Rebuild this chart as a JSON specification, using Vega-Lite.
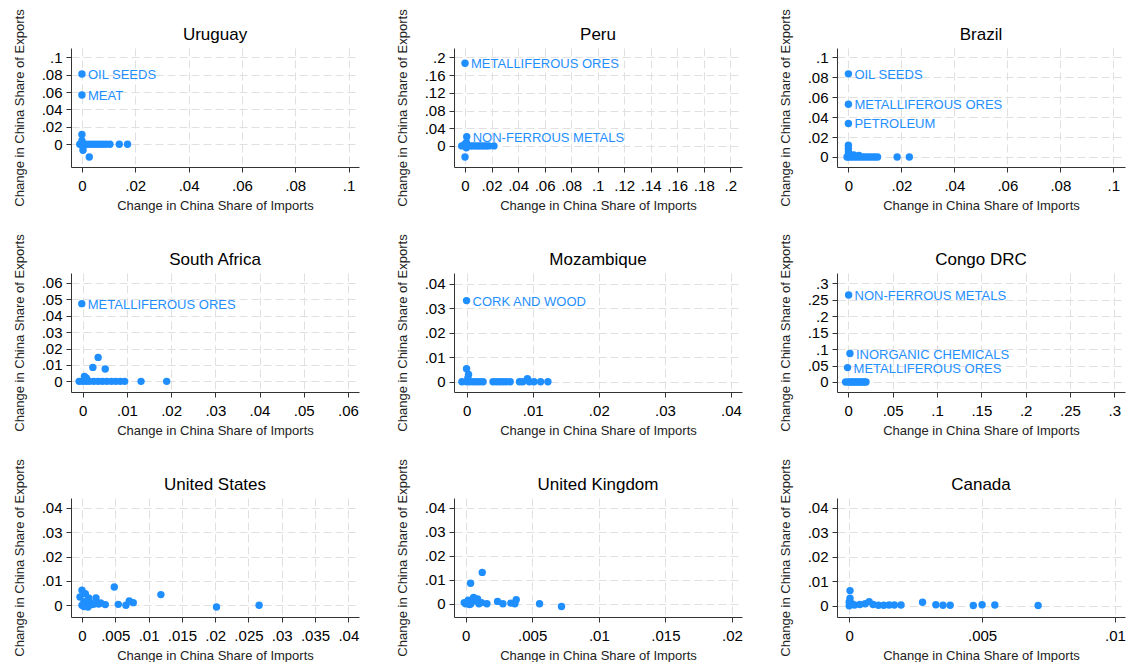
{
  "$schema": "https://vega.github.io/schema/vega-lite/v6.json",
  "padding": {"left": 12, "top": 8, "right": 0, "bottom": 0},
  "background": "white",
  "datasets": {
    "trade": [
      {"country": "Uruguay", "imp": 0, "exp": 0.081, "label": "OIL SEEDS"},
      {"country": "Uruguay", "imp": 0, "exp": 0.0568, "label": "MEAT"},
      {"country": "Uruguay", "imp": 0, "exp": 0.0112, "label": null},
      {"country": "Uruguay", "imp": 0, "exp": 0.004, "label": null},
      {"country": "Uruguay", "imp": -0.0008, "exp": 0, "label": null},
      {"country": "Uruguay", "imp": 0, "exp": 0, "label": null},
      {"country": "Uruguay", "imp": 0.0004, "exp": -0.003, "label": null},
      {"country": "Uruguay", "imp": 0.0004, "exp": -0.007, "label": null},
      {"country": "Uruguay", "imp": 0.0015, "exp": 0, "label": null},
      {"country": "Uruguay", "imp": 0.00275, "exp": 0, "label": null},
      {"country": "Uruguay", "imp": 0.004, "exp": 0, "label": null},
      {"country": "Uruguay", "imp": 0.00525, "exp": 0, "label": null},
      {"country": "Uruguay", "imp": 0.0065, "exp": 0, "label": null},
      {"country": "Uruguay", "imp": 0.00775, "exp": 0, "label": null},
      {"country": "Uruguay", "imp": 0.009, "exp": 0, "label": null},
      {"country": "Uruguay", "imp": 0.0105, "exp": 0, "label": null},
      {"country": "Uruguay", "imp": 0.014, "exp": 0, "label": null},
      {"country": "Uruguay", "imp": 0.0171, "exp": 0, "label": null},
      {"country": "Uruguay", "imp": 0.00275, "exp": -0.0147, "label": null},

      {"country": "Peru", "imp": 0, "exp": 0.187, "label": "METALLIFEROUS ORES"},
      {"country": "Peru", "imp": 0.0013, "exp": 0.0205, "label": "NON-FERROUS METALS"},
      {"country": "Peru", "imp": 0, "exp": -0.025, "label": null},
      {"country": "Peru", "imp": 0.001, "exp": 0.008, "label": null},
      {"country": "Peru", "imp": 0, "exp": 0.004, "label": null},
      {"country": "Peru", "imp": 0.001, "exp": -0.004, "label": null},
      {"country": "Peru", "imp": -0.0025, "exp": 0, "label": null},
      {"country": "Peru", "imp": 0, "exp": 0, "label": null},
      {"country": "Peru", "imp": 0.002, "exp": 0, "label": null},
      {"country": "Peru", "imp": 0.004, "exp": 0, "label": null},
      {"country": "Peru", "imp": 0.006, "exp": 0, "label": null},
      {"country": "Peru", "imp": 0.008, "exp": 0, "label": null},
      {"country": "Peru", "imp": 0.01, "exp": 0, "label": null},
      {"country": "Peru", "imp": 0.012, "exp": 0, "label": null},
      {"country": "Peru", "imp": 0.014, "exp": 0, "label": null},
      {"country": "Peru", "imp": 0.016, "exp": 0, "label": null},
      {"country": "Peru", "imp": 0.018, "exp": 0, "label": null},
      {"country": "Peru", "imp": 0.0218, "exp": 0, "label": null},

      {"country": "Brazil", "imp": 0, "exp": 0.0835, "label": "OIL SEEDS"},
      {"country": "Brazil", "imp": 0, "exp": 0.0529, "label": "METALLIFEROUS ORES"},
      {"country": "Brazil", "imp": 0, "exp": 0.0337, "label": "PETROLEUM"},
      {"country": "Brazil", "imp": 0, "exp": 0.0118, "label": null},
      {"country": "Brazil", "imp": 0, "exp": 0.0084, "label": null},
      {"country": "Brazil", "imp": 0, "exp": 0.005, "label": null},
      {"country": "Brazil", "imp": 0.0003, "exp": 0.003, "label": null},
      {"country": "Brazil", "imp": 0.002, "exp": 0.002, "label": null},
      {"country": "Brazil", "imp": 0.004, "exp": 0.0015, "label": null},
      {"country": "Brazil", "imp": -0.0005, "exp": 0, "label": null},
      {"country": "Brazil", "imp": 0, "exp": 0, "label": null},
      {"country": "Brazil", "imp": 0.001, "exp": 0, "label": null},
      {"country": "Brazil", "imp": 0.002, "exp": 0, "label": null},
      {"country": "Brazil", "imp": 0.003, "exp": 0, "label": null},
      {"country": "Brazil", "imp": 0.004, "exp": 0, "label": null},
      {"country": "Brazil", "imp": 0.005, "exp": 0, "label": null},
      {"country": "Brazil", "imp": 0.006, "exp": 0, "label": null},
      {"country": "Brazil", "imp": 0.007, "exp": 0, "label": null},
      {"country": "Brazil", "imp": 0.008, "exp": 0, "label": null},
      {"country": "Brazil", "imp": 0.009, "exp": 0, "label": null},
      {"country": "Brazil", "imp": 0.01, "exp": 0, "label": null},
      {"country": "Brazil", "imp": 0.011, "exp": 0, "label": null},
      {"country": "Brazil", "imp": 0.0184, "exp": 0, "label": null},
      {"country": "Brazil", "imp": 0.023, "exp": 0, "label": null},

      {"country": "South Africa", "imp": -0.0002, "exp": 0.0474, "label": "METALLIFEROUS ORES"},
      {"country": "South Africa", "imp": 0.0035, "exp": 0.0146, "label": null},
      {"country": "South Africa", "imp": 0.0023, "exp": 0.0085, "label": null},
      {"country": "South Africa", "imp": 0.0051, "exp": 0.0075, "label": null},
      {"country": "South Africa", "imp": 0.0004, "exp": 0.003, "label": null},
      {"country": "South Africa", "imp": 0.0008, "exp": 0.002, "label": null},
      {"country": "South Africa", "imp": 0.001, "exp": 0.001, "label": null},
      {"country": "South Africa", "imp": -0.0008, "exp": 0, "label": null},
      {"country": "South Africa", "imp": 0, "exp": 0, "label": null},
      {"country": "South Africa", "imp": 0.0008, "exp": 0, "label": null},
      {"country": "South Africa", "imp": 0.0015, "exp": 0, "label": null},
      {"country": "South Africa", "imp": 0.0025, "exp": 0, "label": null},
      {"country": "South Africa", "imp": 0.0035, "exp": 0, "label": null},
      {"country": "South Africa", "imp": 0.0045, "exp": 0, "label": null},
      {"country": "South Africa", "imp": 0.0055, "exp": 0, "label": null},
      {"country": "South Africa", "imp": 0.0065, "exp": 0, "label": null},
      {"country": "South Africa", "imp": 0.0075, "exp": 0, "label": null},
      {"country": "South Africa", "imp": 0.0085, "exp": 0, "label": null},
      {"country": "South Africa", "imp": 0.0095, "exp": 0, "label": null},
      {"country": "South Africa", "imp": 0.0132, "exp": 0, "label": null},
      {"country": "South Africa", "imp": 0.019, "exp": 0, "label": null},

      {"country": "Mozambique", "imp": 0, "exp": 0.0332, "label": "CORK AND WOOD"},
      {"country": "Mozambique", "imp": 0, "exp": 0.0053, "label": null},
      {"country": "Mozambique", "imp": 0.0003, "exp": 0.003, "label": null},
      {"country": "Mozambique", "imp": 0.0002, "exp": 0.0015, "label": null},
      {"country": "Mozambique", "imp": 0.0092, "exp": 0.0012, "label": null},
      {"country": "Mozambique", "imp": -0.0007, "exp": 0, "label": null},
      {"country": "Mozambique", "imp": 0, "exp": 0, "label": null},
      {"country": "Mozambique", "imp": 0.0005, "exp": 0, "label": null},
      {"country": "Mozambique", "imp": 0.001, "exp": 0, "label": null},
      {"country": "Mozambique", "imp": 0.0015, "exp": 0, "label": null},
      {"country": "Mozambique", "imp": 0.002, "exp": 0, "label": null},
      {"country": "Mozambique", "imp": 0.0025, "exp": 0, "label": null},
      {"country": "Mozambique", "imp": 0.004, "exp": 0, "label": null},
      {"country": "Mozambique", "imp": 0.0045, "exp": 0, "label": null},
      {"country": "Mozambique", "imp": 0.005, "exp": 0, "label": null},
      {"country": "Mozambique", "imp": 0.0055, "exp": 0, "label": null},
      {"country": "Mozambique", "imp": 0.006, "exp": 0, "label": null},
      {"country": "Mozambique", "imp": 0.0066, "exp": 0, "label": null},
      {"country": "Mozambique", "imp": 0.008, "exp": 0, "label": null},
      {"country": "Mozambique", "imp": 0.0085, "exp": 0, "label": null},
      {"country": "Mozambique", "imp": 0.0095, "exp": 0, "label": null},
      {"country": "Mozambique", "imp": 0.0102, "exp": 0, "label": null},
      {"country": "Mozambique", "imp": 0.0112, "exp": 0, "label": null},
      {"country": "Mozambique", "imp": 0.0123, "exp": 0, "label": null},

      {"country": "Congo DRC", "imp": 0.0004, "exp": 0.2645, "label": "NON-FERROUS METALS"},
      {"country": "Congo DRC", "imp": 0.0019, "exp": 0.0865, "label": "INORGANIC CHEMICALS"},
      {"country": "Congo DRC", "imp": -0.0008, "exp": 0.0437, "label": "METALLIFEROUS ORES"},
      {"country": "Congo DRC", "imp": -0.003, "exp": 0, "label": null},
      {"country": "Congo DRC", "imp": 0, "exp": 0, "label": null},
      {"country": "Congo DRC", "imp": 0.002, "exp": 0, "label": null},
      {"country": "Congo DRC", "imp": 0.004, "exp": 0, "label": null},
      {"country": "Congo DRC", "imp": 0.006, "exp": 0, "label": null},
      {"country": "Congo DRC", "imp": 0.008, "exp": 0, "label": null},
      {"country": "Congo DRC", "imp": 0.01, "exp": 0, "label": null},
      {"country": "Congo DRC", "imp": 0.012, "exp": 0, "label": null},
      {"country": "Congo DRC", "imp": 0.014, "exp": 0, "label": null},
      {"country": "Congo DRC", "imp": 0.016, "exp": 0, "label": null},
      {"country": "Congo DRC", "imp": 0.018, "exp": 0, "label": null},
      {"country": "Congo DRC", "imp": 0.02, "exp": 0, "label": null},

      {"country": "United States", "imp": 0, "exp": 0.0062, "label": null},
      {"country": "United States", "imp": 0.0005, "exp": 0.0048, "label": null},
      {"country": "United States", "imp": 0.0021, "exp": 0.003, "label": null},
      {"country": "United States", "imp": 0.00485, "exp": 0.0075, "label": null},
      {"country": "United States", "imp": 0.01185, "exp": 0.0044, "label": null},
      {"country": "United States", "imp": 0.0202, "exp": -0.0007, "label": null},
      {"country": "United States", "imp": 0.0266, "exp": 0, "label": null},
      {"country": "United States", "imp": 0.00545, "exp": 0.0004, "label": null},
      {"country": "United States", "imp": 0.0066, "exp": 0, "label": null},
      {"country": "United States", "imp": 0.0071, "exp": 0.0018, "label": null},
      {"country": "United States", "imp": 0.0077, "exp": 0.0011, "label": null},
      {"country": "United States", "imp": 0.0035, "exp": 0.0003, "label": null},
      {"country": "United States", "imp": 0.0028, "exp": 0.001, "label": null},
      {"country": "United States", "imp": -0.0003, "exp": 0.0034, "label": null},
      {"country": "United States", "imp": 0, "exp": 0, "label": null},
      {"country": "United States", "imp": 0.0003, "exp": 0.0015, "label": null},
      {"country": "United States", "imp": 0.0006, "exp": 0.0007, "label": null},
      {"country": "United States", "imp": 0.0009, "exp": -0.0007, "label": null},
      {"country": "United States", "imp": 0.0012, "exp": 0.0012, "label": null},
      {"country": "United States", "imp": 0.0015, "exp": 0.0003, "label": null},
      {"country": "United States", "imp": 0.0018, "exp": 0.0005, "label": null},
      {"country": "United States", "imp": 0.0003, "exp": -0.0005, "label": null},
      {"country": "United States", "imp": 0.001, "exp": 0.003, "label": null},
      {"country": "United States", "imp": 0.0025, "exp": 0.0005, "label": null},

      {"country": "United Kingdom", "imp": 0.00125, "exp": 0.0131, "label": null},
      {"country": "United Kingdom", "imp": 0.000375, "exp": 0.0086, "label": null},
      {"country": "United Kingdom", "imp": 0.00555, "exp": 0, "label": null},
      {"country": "United Kingdom", "imp": 0.0072, "exp": -0.0011, "label": null},
      {"country": "United Kingdom", "imp": 0.0024, "exp": 0.001, "label": null},
      {"country": "United Kingdom", "imp": 0.0028, "exp": 0, "label": null},
      {"country": "United Kingdom", "imp": 0.0034, "exp": 0.0003, "label": null},
      {"country": "United Kingdom", "imp": 0.0038, "exp": 0.0017, "label": null},
      {"country": "United Kingdom", "imp": 0.0037, "exp": 0, "label": null},
      {"country": "United Kingdom", "imp": 0.0016, "exp": 0, "label": null},
      {"country": "United Kingdom", "imp": 0.0006, "exp": 0.0026, "label": null},
      {"country": "United Kingdom", "imp": 0, "exp": 0, "label": null},
      {"country": "United Kingdom", "imp": -0.0001, "exp": 0.0005, "label": null},
      {"country": "United Kingdom", "imp": 0.0002, "exp": 0.0015, "label": null},
      {"country": "United Kingdom", "imp": 0.0004, "exp": 0, "label": null},
      {"country": "United Kingdom", "imp": 0.0008, "exp": 0.0012, "label": null},
      {"country": "United Kingdom", "imp": 0.001, "exp": 0, "label": null},
      {"country": "United Kingdom", "imp": 0.0012, "exp": 0.0005, "label": null},
      {"country": "United Kingdom", "imp": 0.0009, "exp": 0.002, "label": null},
      {"country": "United Kingdom", "imp": 0.0003, "exp": -0.0003, "label": null},

      {"country": "Canada", "imp": 0.00003, "exp": 0.0062, "label": null},
      {"country": "Canada", "imp": 0.00003, "exp": 0.0031, "label": null},
      {"country": "Canada", "imp": 0, "exp": 0.0015, "label": null},
      {"country": "Canada", "imp": 0, "exp": 0, "label": null},
      {"country": "Canada", "imp": 0.0001, "exp": 0.0008, "label": null},
      {"country": "Canada", "imp": 0.0002, "exp": 0.0003, "label": null},
      {"country": "Canada", "imp": 0.0004, "exp": 0.0005, "label": null},
      {"country": "Canada", "imp": 0.0006, "exp": 0.0008, "label": null},
      {"country": "Canada", "imp": 0.00075, "exp": 0.0017, "label": null},
      {"country": "Canada", "imp": 0.0009, "exp": 0.0005, "label": null},
      {"country": "Canada", "imp": 0.0011, "exp": 0.0002, "label": null},
      {"country": "Canada", "imp": 0.0013, "exp": 0.0002, "label": null},
      {"country": "Canada", "imp": 0.0015, "exp": 0.0003, "label": null},
      {"country": "Canada", "imp": 0.0017, "exp": 0.0003, "label": null},
      {"country": "Canada", "imp": 0.00195, "exp": 0.0003, "label": null},
      {"country": "Canada", "imp": 0.00276, "exp": 0.0014, "label": null},
      {"country": "Canada", "imp": 0.00326, "exp": 0.0004, "label": null},
      {"country": "Canada", "imp": 0.00353, "exp": 0.0002, "label": null},
      {"country": "Canada", "imp": 0.0038, "exp": 0.0002, "label": null},
      {"country": "Canada", "imp": 0.00467, "exp": 0.0001, "label": null},
      {"country": "Canada", "imp": 0.005, "exp": 0.0004, "label": null},
      {"country": "Canada", "imp": 0.00548, "exp": 0.0003, "label": null},
      {"country": "Canada", "imp": 0.00711, "exp": 0.0001, "label": null}
    ]
  },
  "columns": 3,
  "bounds": "flush",
  "spacing": {"row": 106, "column": 95},
  "concat": [
    {
      "title": "Uruguay", "width": 288, "height": 119,
      "data": {"name": "trade"},
      "transform": [{"filter": "datum.country === 'Uruguay'"}],
      "encoding": {
        "x": {"field": "imp", "type": "quantitative", "title": "Change in China Share of Imports", "scale": {"domain": [-0.0041, 0.1039], "nice": false, "zero": false}, "axis": {"values": [0, 0.02, 0.04, 0.06, 0.08, 0.1]}},
        "y": {"field": "exp", "type": "quantitative", "title": "Change in China Share of Exports", "scale": {"domain": [-0.0263, 0.1109], "nice": false, "zero": false}, "axis": {"values": [0, 0.02, 0.04, 0.06, 0.08, 0.1]}}
      },
      "layer": [
        {"mark": {"type": "point"}},
        {"mark": {"type": "text"}, "transform": [{"filter": "datum.label != null"}], "encoding": {"text": {"field": "label"}}}
      ]
    },
    {
      "title": "Peru", "width": 288, "height": 119,
      "data": {"name": "trade"},
      "transform": [{"filter": "datum.country === 'Peru'"}],
      "encoding": {
        "x": {"field": "imp", "type": "quantitative", "title": "Change in China Share of Imports", "scale": {"domain": [-0.0083, 0.2088], "nice": false, "zero": false}, "axis": {"values": [0, 0.02, 0.04, 0.06, 0.08, 0.1, 0.12, 0.14, 0.16, 0.18, 0.2]}},
        "y": {"field": "exp", "type": "quantitative", "title": "Change in China Share of Exports", "scale": {"domain": [-0.0477, 0.2213], "nice": false, "zero": false}, "axis": {"values": [0, 0.04, 0.08, 0.12, 0.16, 0.2]}}
      },
      "layer": [
        {"mark": {"type": "point"}},
        {"mark": {"type": "text"}, "transform": [{"filter": "datum.label != null"}], "encoding": {"text": {"field": "label"}}}
      ]
    },
    {
      "title": "Brazil", "width": 288, "height": 119,
      "data": {"name": "trade"},
      "transform": [{"filter": "datum.country === 'Brazil'"}],
      "encoding": {
        "x": {"field": "imp", "type": "quantitative", "title": "Change in China Share of Imports", "scale": {"domain": [-0.0043, 0.1044], "nice": false, "zero": false}, "axis": {"values": [0, 0.02, 0.04, 0.06, 0.08, 0.1]}},
        "y": {"field": "exp", "type": "quantitative", "title": "Change in China Share of Exports", "scale": {"domain": [-0.0101, 0.1095], "nice": false, "zero": false}, "axis": {"values": [0, 0.02, 0.04, 0.06, 0.08, 0.1]}}
      },
      "layer": [
        {"mark": {"type": "point"}},
        {"mark": {"type": "text"}, "transform": [{"filter": "datum.label != null"}], "encoding": {"text": {"field": "label"}}}
      ]
    },
    {
      "title": "South Africa", "width": 288, "height": 119,
      "data": {"name": "trade"},
      "transform": [{"filter": "datum.country === 'South Africa'"}],
      "encoding": {
        "x": {"field": "imp", "type": "quantitative", "title": "Change in China Share of Imports", "scale": {"domain": [-0.00264, 0.0625], "nice": false, "zero": false}, "axis": {"values": [0, 0.01, 0.02, 0.03, 0.04, 0.05, 0.06]}},
        "y": {"field": "exp", "type": "quantitative", "title": "Change in China Share of Exports", "scale": {"domain": [-0.0065, 0.0661], "nice": false, "zero": false}, "axis": {"values": [0, 0.01, 0.02, 0.03, 0.04, 0.05, 0.06]}}
      },
      "layer": [
        {"mark": {"type": "point"}},
        {"mark": {"type": "text"}, "transform": [{"filter": "datum.label != null"}], "encoding": {"text": {"field": "label"}}}
      ]
    },
    {
      "title": "Mozambique", "width": 288, "height": 119,
      "data": {"name": "trade"},
      "transform": [{"filter": "datum.country === 'Mozambique'"}],
      "encoding": {
        "x": {"field": "imp", "type": "quantitative", "title": "Change in China Share of Imports", "scale": {"domain": [-0.0019, 0.04166], "nice": false, "zero": false}, "axis": {"values": [0, 0.01, 0.02, 0.03, 0.04]}},
        "y": {"field": "exp", "type": "quantitative", "title": "Change in China Share of Exports", "scale": {"domain": [-0.0042, 0.0445], "nice": false, "zero": false}, "axis": {"values": [0, 0.01, 0.02, 0.03, 0.04]}}
      },
      "layer": [
        {"mark": {"type": "point"}},
        {"mark": {"type": "text"}, "transform": [{"filter": "datum.label != null"}], "encoding": {"text": {"field": "label"}}}
      ]
    },
    {
      "title": "Congo DRC", "width": 288, "height": 119,
      "data": {"name": "trade"},
      "transform": [{"filter": "datum.country === 'Congo DRC'"}],
      "encoding": {
        "x": {"field": "imp", "type": "quantitative", "title": "Change in China Share of Imports", "scale": {"domain": [-0.0127, 0.312], "nice": false, "zero": false}, "axis": {"values": [0, 0.05, 0.1, 0.15, 0.2, 0.25, 0.3]}},
        "y": {"field": "exp", "type": "quantitative", "title": "Change in China Share of Exports", "scale": {"domain": [-0.0305, 0.3314], "nice": false, "zero": false}, "axis": {"values": [0, 0.05, 0.1, 0.15, 0.2, 0.25, 0.3]}}
      },
      "layer": [
        {"mark": {"type": "point"}},
        {"mark": {"type": "text"}, "transform": [{"filter": "datum.label != null"}], "encoding": {"text": {"field": "label"}}}
      ]
    },
    {
      "title": "United States", "width": 288, "height": 119,
      "data": {"name": "trade"},
      "transform": [{"filter": "datum.country === 'United States'"}],
      "encoding": {
        "x": {"field": "imp", "type": "quantitative", "title": "Change in China Share of Imports", "scale": {"domain": [-0.00165, 0.0416], "nice": false, "zero": false}, "axis": {"values": [0, 0.005, 0.01, 0.015, 0.02, 0.025, 0.03, 0.035, 0.04]}},
        "y": {"field": "exp", "type": "quantitative", "title": "Change in China Share of Exports", "scale": {"domain": [-0.0048, 0.0441], "nice": false, "zero": false}, "axis": {"values": [0, 0.01, 0.02, 0.03, 0.04]}}
      },
      "layer": [
        {"mark": {"type": "point"}}
      ]
    },
    {
      "title": "United Kingdom", "width": 288, "height": 119,
      "data": {"name": "trade"},
      "transform": [{"filter": "datum.country === 'United Kingdom'"}],
      "encoding": {
        "x": {"field": "imp", "type": "quantitative", "title": "Change in China Share of Imports", "scale": {"domain": [-0.00087, 0.02075], "nice": false, "zero": false}, "axis": {"values": [0, 0.005, 0.01, 0.015, 0.02]}},
        "y": {"field": "exp", "type": "quantitative", "title": "Change in China Share of Exports", "scale": {"domain": [-0.0055, 0.0441], "nice": false, "zero": false}, "axis": {"values": [0, 0.01, 0.02, 0.03, 0.04]}}
      },
      "layer": [
        {"mark": {"type": "point"}}
      ]
    },
    {
      "title": "Canada", "width": 288, "height": 119,
      "data": {"name": "trade"},
      "transform": [{"filter": "datum.country === 'Canada'"}],
      "encoding": {
        "x": {"field": "imp", "type": "quantitative", "title": "Change in China Share of Imports", "scale": {"domain": [-0.00046, 0.01038], "nice": false, "zero": false}, "axis": {"values": [0, 0.005, 0.01]}},
        "y": {"field": "exp", "type": "quantitative", "title": "Change in China Share of Exports", "scale": {"domain": [-0.0046, 0.04406], "nice": false, "zero": false}, "axis": {"values": [0, 0.01, 0.02, 0.03, 0.04]}}
      },
      "layer": [
        {"mark": {"type": "point"}}
      ]
    }
  ],
  "config": {
    "font": "Liberation Sans",
    "view": {"stroke": null},
    "point": {"filled": true, "size": 55, "color": "#1f8fff", "opacity": 1},
    "text": {"color": "#1f8fff", "fontSize": 13, "align": "left", "baseline": "middle", "dx": 6, "dy": 1},
    "axis": {
      "grid": true,
      "gridColor": "#e0e0e0",
      "gridDash": [8, 4],
      "gridWidth": 1,
      "domain": true,
      "domainColor": "#333333",
      "domainWidth": 1,
      "tickColor": "#333333",
      "tickSize": 5,
      "labelFontSize": 15,
      "labelColor": "#000000",
      "labelFlush": false,
      "labelOverlap": false,
      "labelExpr": "datum.value == 0 ? '0' : substring(format(datum.value, '~g'), 1)",
      "titleFontSize": 13,
      "titleFontWeight": "normal",
      "titleColor": "#222222"
    },
    "axisX": {"labelPadding": 6, "minExtent": 25, "maxExtent": 25, "titlePadding": 7},
    "axisY": {"labelAngle": 0, "labelPadding": 4, "minExtent": 35, "maxExtent": 35, "titlePadding": 10},
    "title": {"fontSize": 17, "fontWeight": "normal", "color": "#000000", "anchor": "middle", "frame": "group", "baseline": "alphabetic", "offset": -35}
  }
}
